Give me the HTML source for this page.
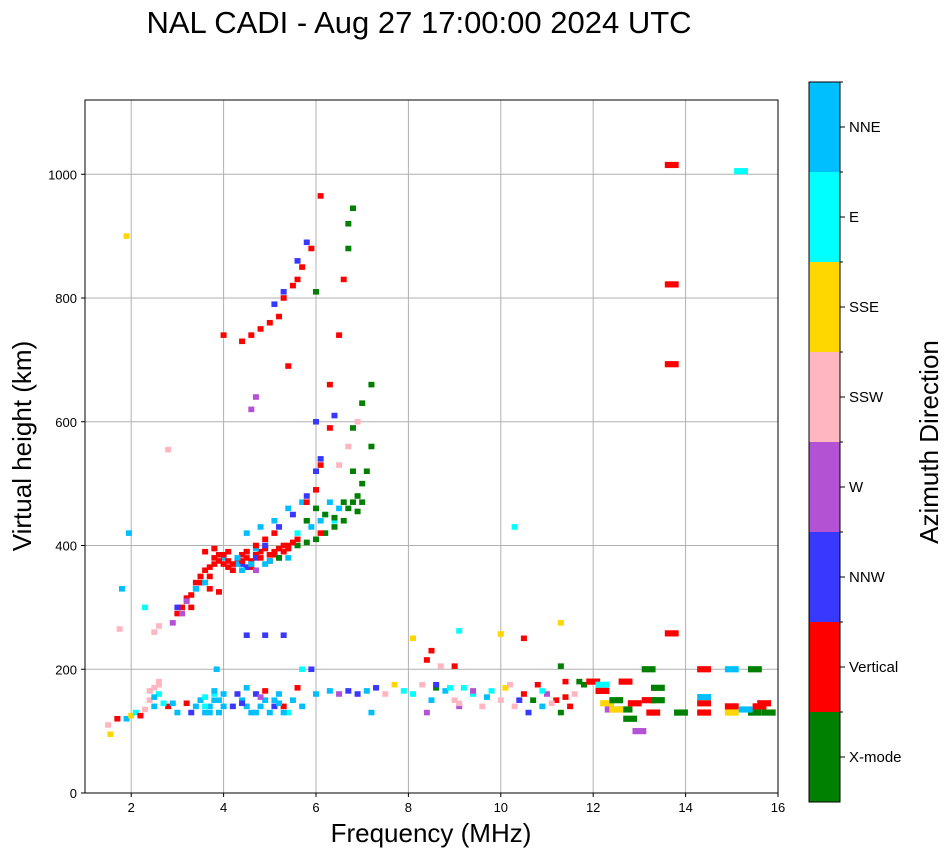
<!DOCTYPE html>
<html><head><meta charset="utf-8"><style>
body{margin:0;background:#fff;font-family:"Liberation Sans",sans-serif;}
svg text{font-family:"Liberation Sans",sans-serif;}
</style></head><body>
<svg id="chart" width="951" height="856">
<text x="419" y="33" font-size="31" text-anchor="middle">NAL CADI - Aug 27 17:00:00 2024 UTC</text>
<g id="grid"></g>
<g id="marks"></g>
<rect x="85" y="100" width="693" height="693" fill="none" stroke="#000" stroke-width="1"/>
<g id="axes"></g>
<text x="431" y="842" font-size="26" text-anchor="middle">Frequency (MHz)</text>
<text x="31" y="446" font-size="26" text-anchor="middle" transform="rotate(-90 31 446)">Virtual height (km)</text>
<g id="cbar"></g>
<text x="938" y="442" font-size="26" text-anchor="middle" transform="rotate(-90 938 442)">Azimuth Direction</text>
</svg>
<script>
const dirLabels=["X-mode","Vertical","NNW","W","SSW","SSE","E","NNE"];
const dirColors=["#008000","#ff0000","#3838ff","#b452d6","#ffb6c1","#ffd700","#00ffff","#00bfff"];
const xTicks=[2,4,6,8,10,12,14,16];
const yTicks=[0,200,400,600,800,1000];
const freqs=[3.0,3.1,3.2,3.3,3.4,3.5,3.6,3.7,3.8,3.9,4.0,4.1,4.2,4.3,4.4,4.5,4.6,4.7,4.8,4.9,5.0,5.1,5.2,5.3,5.4,3.7,3.9,3.6,3.8,
2.9,3.0,3.1,4.4,4.7,4.9,5.2,5.5,5.8,6.0,6.1,
4.5,4.8,5.1,5.4,5.7,6.1,6.2,6.4,5.6,
5.6,5.8,6.0,6.2,6.4,6.6,6.7,6.8,6.9,7.0,7.1,7.2,6.8,7.0,7.2,6.7,6.8,6.0,6.7,
5.8,6.0,6.1,6.3,6.3,6.5,6.6,6.1,5.9,5.7,5.5,5.3,5.2,5.0,4.8,4.6,4.4,4.0,5.4,5.6,
5.1,5.3,5.6,5.8,6.0,6.4,4.7,4.6,
6.7,6.5,6.9,
1.9,1.95,1.8,1.75,2.8,2.3,2.6,2.5,
13.7,13.7,13.7,13.7,15.2,10.3,10.5,11.3,8.1,9.1,10.0,4.5,4.9,5.3,5.7,
1.5,1.55,1.7,1.9,2.0,2.1,2.2,2.3,2.4,2.5,2.6,2.5,2.6,2.8,2.9,3.0,3.2,3.3,3.5,3.6,3.7,3.8,3.9,3.85,4.0,4.2,4.4,4.5,4.6,4.7,4.8,4.9,5.0,5.1,5.2,5.3,5.4,5.5,5.6,5.7,5.9,6.0,6.3,6.5,6.7,6.9,7.1,7.3,7.5,7.2,7.7,7.9,8.1,8.3,8.4,8.5,8.6,8.4,8.5,8.7,8.8,9.0,9.1,9.2,9.0,9.4,9.6,9.8,10.0,10.1,10.3,10.5,10.6,10.7,10.8,10.9,11.0,11.2,11.3,11.3,11.4,11.5,11.6,11.8,12.0,12.2,12.3,12.4,12.5,12.7,12.7,12.8,13.0,13.2,13.3,13.4,13.2,13.9,14.4,14.4,14.4,14.4,15.0,15.0,15.0,15.5,15.5,15.6,15.8,
4.0,4.1,4.3,4.5,4.7,5.0,5.2,5.4,3.5,3.4,3.2,
3.7,3.8,3.9,4.0,4.2,4.4,4.6,4.8,5.0,5.1,5.3,5.5,4.9,4.7,4.5,4.3,4.1,3.6,3.4,3.3,
5.8,6.0,6.2,6.4,6.6,6.9,7.0,5.9,6.1,6.3,6.5,6.8,
4.5,4.7,4.9,5.1,4.4,4.6,5.0,5.2,5.4,5.6,5.8,
3.5,3.6,3.7,3.8,3.9,4.0,4.3,4.5,4.7,4.9,5.1,5.3,3.4,3.6,3.8,4.4,4.8,5.2,2.4,2.5,2.6,2.7,8.6,8.9,9.1,9.4,9.7,10.2,10.4,10.9,11.1,11.4,11.7,12.2,12.5,12.9,13.4,15.3,15.7];
const heights=[290,300,315,320,340,350,360,365,380,385,370,365,360,375,385,380,375,385,390,395,385,390,395,400,395,330,325,390,395,
275,300,290,370,380,400,430,450,480,520,540,
420,430,440,460,470,440,450,440,420,
400,405,410,420,430,440,460,470,480,500,520,560,590,630,660,880,945,810,920,
470,490,530,590,660,740,830,965,880,850,820,800,770,760,750,740,730,740,690,830,
790,810,860,890,600,610,640,620,
560,530,600,
900,420,330,265,555,300,270,260,
1015,822,693,258,1005,430,250,275,250,262,257,255,255,255,200,
110,95,120,120,125,130,125,135,150,170,180,140,160,140,145,130,145,130,150,130,140,150,130,200,160,140,150,170,130,160,140,165,130,150,160,140,130,150,170,140,200,160,165,160,165,160,165,170,160,130,175,165,160,175,130,150,170,215,230,205,165,150,140,170,205,160,140,165,150,170,140,160,130,150,175,140,160,150,130,205,180,140,160,175,180,175,145,135,150,135,180,120,100,150,130,150,200,130,145,130,200,155,200,140,130,130,200,140,130,
380,375,370,390,395,385,380,400,340,330,310,
350,370,375,385,370,375,365,380,375,385,390,405,370,360,365,380,390,340,330,300,
440,460,450,445,470,455,470,430,420,470,460,520,
390,400,410,420,360,370,375,380,380,410,440,
150,140,130,160,150,140,160,140,130,150,140,130,140,155,165,145,155,145,165,155,175,145,175,170,145,165,155,175,150,165,145,155,180,165,135,145,170,135,145];
const dirs=[1,1,1,1,1,1,1,1,1,1,1,1,1,1,1,1,1,1,1,1,1,1,1,1,1,1,1,1,1,
3,2,3,2,2,2,2,2,2,2,2,
7,7,7,7,7,7,6,6,6,
0,0,0,0,0,0,0,0,0,0,0,0,0,0,0,0,0,0,0,
1,1,1,1,1,1,1,1,1,1,1,1,1,1,1,1,1,1,1,1,
2,2,2,2,2,2,3,3,
4,4,4,
5,7,7,4,4,6,4,4,
1,1,1,1,6,6,1,5,5,6,5,2,2,2,6,
4,5,1,7,5,6,1,4,4,4,4,7,6,1,7,7,1,2,7,7,7,7,7,7,7,2,7,7,7,2,7,1,7,7,7,1,6,7,1,7,2,7,7,3,2,2,7,2,4,7,5,6,6,4,3,7,0,1,1,4,7,4,3,6,1,6,4,6,4,5,4,1,2,0,1,7,3,1,0,0,1,1,4,0,1,6,5,3,0,0,1,0,3,1,1,0,0,0,1,1,1,7,7,1,5,0,0,1,0,
7,1,7,1,7,1,2,1,1,7,3,
1,1,1,1,1,1,1,1,1,1,1,1,7,3,2,7,1,7,7,1,
7,0,0,0,0,0,0,7,1,7,7,0,
1,1,1,1,7,7,7,0,7,1,0,
7,6,7,6,7,7,2,7,7,7,2,7,7,6,7,2,3,7,4,7,4,6,2,6,4,3,7,4,2,6,4,1,0,1,5,1,0,7,1];
const X=f=>85+(f-1)*693/15;
const Y=h=>793-h*693/1120;
const NS="http://www.w3.org/2000/svg";
function mk(t,a,p){const e=document.createElementNS(NS,t);for(const k in a)e.setAttribute(k,a[k]);p.appendChild(e);return e;}
const grid=document.getElementById('grid'),axes=document.getElementById('axes'),marks=document.getElementById('marks'),cbar=document.getElementById('cbar');
xTicks.forEach(t=>{
 const g=mk('line',{x1:X(t),x2:X(t),y1:100,y2:793,stroke:'#b0b0b0','stroke-width':1},grid);
 
 
 mk('line',{x1:X(t),x2:X(t),y1:793,y2:797,stroke:'#000'},axes);
 const l=mk('text',{x:X(t),y:812,'font-size':13,'text-anchor':'middle'},axes);l.textContent=t;
 
 
});
yTicks.forEach(t=>{
 const g=mk('line',{x1:85,x2:778,y1:Y(t),y2:Y(t),stroke:'#b0b0b0','stroke-width':1},grid);
 
 
 mk('line',{x1:81,x2:85,y1:Y(t),y2:Y(t),stroke:'#000'},axes);
 const l=mk('text',{x:77,y:Y(t)+5,'font-size':13,'text-anchor':'end'},axes);l.textContent=t;
 
 
});
for(let i=0;i<freqs.length;i++){
 const f=freqs[i],h=heights[i];
 const w=f>11.9?0.3:0.13, hh=f>11.9?10:9;
 const r=mk('rect',{x:X(f-w/2),y:Y(h+hh/2),width:X(f+w/2)-X(f-w/2),height:Y(h-hh/2)-Y(h+hh/2),fill:dirColors[dirs[i]]},marks);
 
 
}
const cb0=82,cbH=720,n=dirLabels.length,bh=cbH/n;
for(let i=0;i<n;i++){
 const y=cb0+cbH-(i+1)*bh;
 const r=mk('rect',{x:809,y:y,width:31,height:bh,fill:dirColors[i]},cbar);
 
 
 mk('line',{x1:840,x2:845,y1:y+bh/2,y2:y+bh/2,stroke:'#000'},cbar);
 mk('line',{x1:840,x2:843,y1:y,y2:y,stroke:'#000'},cbar);
 const l=mk('text',{x:849,y:y+bh/2+5,'font-size':15},cbar);l.textContent=dirLabels[i];
 
 
}
mk('rect',{x:809,y:cb0,width:31,height:cbH,fill:'none',stroke:'#000'},cbar);
</script>
</body></html>
